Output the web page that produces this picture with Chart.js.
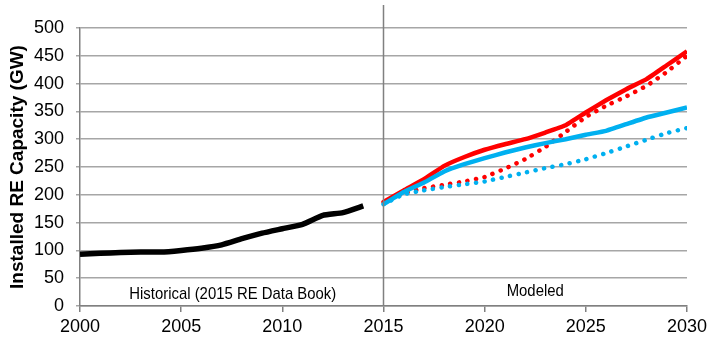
<!DOCTYPE html>
<html>
<head>
<meta charset="utf-8">
<script src="https://cdn.jsdelivr.net/npm/chart.js@4/dist/chart.umd.min.js"></script>
<style>
  html, body { margin: 0; padding: 0; background: #fff; }
  #wrap { width: 720px; height: 349px; }
</style>
</head>
<body>
<div id="wrap"><canvas id="grafico"></canvas></div>
<script>
// dados
var anosHist = [2000, 2001, 2002, 2003, 2004, 2005, 2006, 2007, 2008, 2009, 2010, 2011, 2012, 2013, 2014];
var historico = [93, 95, 96, 97, 97, 100, 104, 110, 121, 131, 139, 147, 163, 168, 180];

var anosMod = [2015, 2016, 2017, 2018, 2019, 2020, 2021, 2022, 2023, 2024, 2025, 2026, 2027, 2028, 2029, 2030];
var vermelhoSolido = [187, 208, 228, 252, 268, 281, 291, 300, 312, 325, 348, 370, 390, 408, 433, 458];
var azulSolido = [183, 205, 222, 242, 255, 266, 276, 285, 293, 300, 308, 315, 327, 339, 348, 357];
var vermelhoPontos = [187, 203, 212, 218, 224, 232, 247, 264, 286, 313, 340, 360, 377, 396, 421, 450];
var azulPontos = [183, 201, 208, 214, 219, 224, 232, 240, 248, 255, 264, 275, 287, 299, 311, 320];

var textoHist = "Historical (2015 RE Data Book)";
var textoMod = "Modeled";
var anoDivisao = 2015;

function pontos(anos, valores) {
    return anos.map(function(a, i) { return { x: a, y: valores[i] }; });
}

var cinza = "#a6a6a6";
var fonte = "'Liberation Sans', Arial, sans-serif";

// texto estreito (tipo Arial Narrow): comprime na horizontal
function textoEstreito(ctx, texto, x, y, fator) {
    ctx.save();
    ctx.translate(x, y);
    ctx.scale(fator, 1);
    ctx.fillText(texto, 0, 0);
    ctx.restore();
}

var divisao = {
    id: "divisao",
    afterDatasetsDraw: function(chart) {
        var ctx = chart.ctx;
        var area = chart.chartArea;
        var x = chart.scales.x.getPixelForValue(anoDivisao);
        ctx.save();
        ctx.strokeStyle = "#808080";
        ctx.lineWidth = 1.5;
        ctx.beginPath();
        ctx.moveTo(x, 5);
        ctx.lineTo(x, area.bottom);
        ctx.stroke();
        ctx.fillStyle = "#000";
        ctx.font = "17px 'Liberation Sans', sans-serif";
        ctx.textAlign = "center";
        ctx.textBaseline = "middle";
        var fator = 207 / ctx.measureText(textoHist).width;
        textoEstreito(ctx, textoHist, (area.left + x) / 2 + 1, area.bottom - 12, fator);
        textoEstreito(ctx, textoMod, (x + area.right) / 2, area.bottom - 15, fator);
        ctx.restore();
    }
};

var ctx = document.getElementById("grafico").getContext("2d");
var myLineChart = new Chart(ctx, {
    type: "line",
    data: {
        datasets: [{
            data: pontos(anosHist, historico),
            borderColor: "#000",
            borderWidth: 5.5,
            tension: 0.15
        }, {
            data: pontos(anosMod, azulSolido),
            borderColor: "#00b0f0",
            borderWidth: 4.5,
            tension: 0.1
        }, {
            data: pontos(anosMod, vermelhoSolido),
            borderColor: "#ff0000",
            borderWidth: 4.5,
            tension: 0.1
        }, {
            data: pontos(anosMod, azulPontos),
            borderColor: "#00b0f0",
            borderWidth: 4.5,
            borderDash: [0.1, 8.6],
            borderCapStyle: "round",
            tension: 0.1
        }, {
            data: pontos(anosMod, vermelhoPontos),
            borderColor: "#ff0000",
            borderWidth: 4.5,
            borderDash: [0.1, 8.6],
            borderCapStyle: "round",
            tension: 0.1
        }]
    },
    options: {
        responsive: true,
        maintainAspectRatio: false,
        animation: false,
        elements: { point: { radius: 0 } },
        layout: { padding: { top: 28, right: 33, left: 0, bottom: 0 } },
        plugins: {
            legend: { display: false },
            tooltip: { enabled: false }
        },
        scales: {
            x: {
                type: "linear",
                min: 2000,
                max: 2030,
                afterFit: function(scale) { scale.height = 43; },
                ticks: {
                    stepSize: 5,
                    color: "#000",
                    font: { family: fonte, size: 18 },
                    padding: 4,
                    maxRotation: 0,
                    callback: function(v) { return String(v); }
                },
                grid: {
                    drawOnChartArea: false,
                    color: "#808080",
                    lineWidth: 1.5,
                    tickLength: 6
                },
                border: { color: "#808080", width: 1.5 }
            },
            y: {
                min: 0,
                max: 500,
                afterFit: function(scale) { scale.width = 80; },
                ticks: {
                    stepSize: 50,
                    color: "#000",
                    font: { family: fonte, size: 18 },
                    padding: 12
                },
                grid: {
                    color: cinza,
                    lineWidth: 1.5,
                    tickLength: 4
                },
                border: { color: "#808080", width: 1.5 },
                title: {
                    display: true,
                    text: "Installed RE Capacity (GW)",
                    color: "#000",
                    font: { family: fonte, size: 19, weight: "bold" },
                    padding: { top: 6, bottom: 0 }
                }
            }
        }
    },
    plugins: [divisao]
});
</script>
</body>
</html>
